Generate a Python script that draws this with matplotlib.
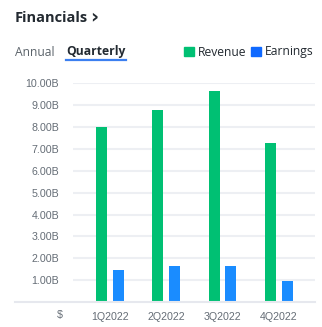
import matplotlib
matplotlib.use("Agg")
import matplotlib.pyplot as plt
import numpy as np
from matplotlib.patches import Rectangle
from matplotlib.lines import Line2D

quarters = ["1Q2022", "2Q2022", "3Q2022", "4Q2022"]
revenue = [8.00, 8.81, 9.66, 7.26]   # billions
earnings = [1.45, 1.65, 1.64, 0.96]  # billions
yticks = [1, 2, 3, 4, 5, 6, 7, 8, 9, 10]
ytick_labels = ["1.00B", "2.00B", "3.00B", "4.00B", "5.00B",
                "6.00B", "7.00B", "8.00B", "9.00B", "10.00B"]

GREEN = "#00c073"
BLUE = "#1a8cff"
W, H = 322, 327

fig = plt.figure(figsize=(W / 100, H / 100), dpi=100)
fig.patch.set_facecolor("white")

def fx(px):
    return px / W

def fy(py):
    return 1 - py / H

ax_left, ax_right, ax_top, ax_bot = 73, 315, 83.5, 302
ax = fig.add_axes([fx(ax_left), fy(ax_bot), fx(ax_right - ax_left), (ax_bot - ax_top) / H])
ax.set_facecolor("none")
for s in ax.spines.values():
    s.set_visible(False)

x = np.arange(len(quarters))
bw = 0.195
off = 0.148
ax.bar(x - off, revenue, bw, color=GREEN, zorder=3)
ax.bar(x + off, earnings, bw, color=BLUE, zorder=3)
ax.set_xlim(-0.65, 3.64)
ax.set_ylim(0, 10)
for t in yticks:
    ax.axhline(t, color="#edeff3", lw=1.5, zorder=1)
ax.set_yticks(yticks)
ax.set_yticklabels(ytick_labels)
ax.set_xticks(x)
ax.set_xticklabels(quarters)
ax.tick_params(axis="both", length=0, labelsize=7.7, labelcolor="#656d76")
ax.tick_params(axis="y", pad=10)
ax.tick_params(axis="x", pad=7)
for lab in ax.get_xticklabels() + ax.get_yticklabels():
    lab.set_fontfamily("Liberation Sans")

# baseline extending left
fig.add_artist(Line2D([fx(15), fx(315)], [fy(302), fy(302)], color="#e6e8ee", lw=1.5))
fig.text(fx(63), fy(315), "$", ha="right", va="center", fontsize=7.7,
         color="#656d76", family="Liberation Sans")

# header
fig.text(fx(15), fy(22.5), "Financials", ha="left", va="baseline", fontsize=10.5,
         fontweight="bold", color="#232a31", family="Open Sans")
fig.text(fx(90), fy(22.5), "\u203a", ha="left", va="baseline", fontsize=14,
         fontweight="bold", color="#232a31", family="DejaVu Sans")
fig.text(fx(15), fy(55.5), "Annual", ha="left", va="baseline", fontsize=8.7,
         color="#5b636a", family="Open Sans")
fig.text(fx(66), fy(55.5), "Quarterly", ha="left", va="baseline", fontsize=8.7,
         fontweight="bold", color="#232a31", family="Open Sans")
fig.add_artist(Line2D([fx(66), fx(126)], [fy(59.5), fy(59.5)], color="#3b7ff0", lw=1.6))

# legend
fig.add_artist(Rectangle((fx(184), fy(56)), fx(9.5), 9.5 / H, color=GREEN))
fig.text(fx(198), fy(55.5), "Revenue", ha="left", va="baseline", fontsize=8.7,
         color="#232a31", family="Open Sans")
fig.add_artist(Rectangle((fx(251.5), fy(56)), fx(9.5), 9.5 / H, color="#0f69ff"))
fig.text(fx(265), fy(55.5), "Earnings", ha="left", va="baseline", fontsize=8.7,
         color="#232a31", family="Open Sans")

fig.savefig("out.png", dpi=100)
